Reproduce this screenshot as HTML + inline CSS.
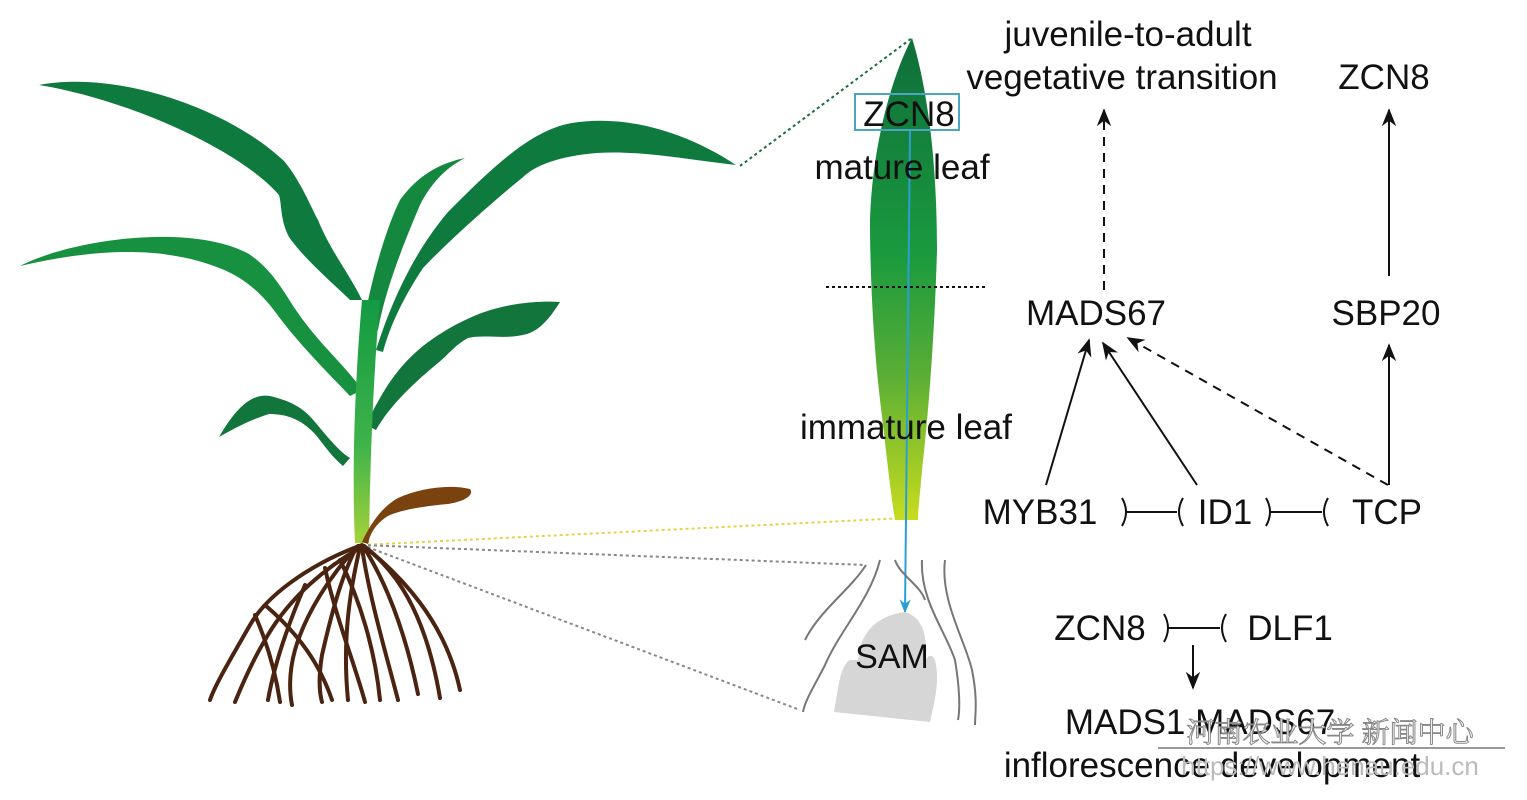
<!DOCTYPE html>
<html><head><meta charset="utf-8"><style>
html,body{margin:0;padding:0;background:#fff;}
svg{display:block;}
text{font-family:"Liberation Sans",Arial,sans-serif;fill:#111;}
</style></head><body>
<svg width="1527" height="800" viewBox="0 0 1527 800" xmlns="http://www.w3.org/2000/svg">
<defs>
<linearGradient id="stem" x1="0" y1="1" x2="0" y2="0">
<stop offset="0" stop-color="#a5d23a"/><stop offset="0.4" stop-color="#3fb34a"/><stop offset="1" stop-color="#139a43"/>
</linearGradient>
<linearGradient id="leaf" x1="0" y1="0" x2="0" y2="1">
<stop offset="0" stop-color="#0f6e3a"/><stop offset="0.45" stop-color="#1a9a3e"/><stop offset="0.7" stop-color="#5aae35"/><stop offset="1" stop-color="#c8dc1e"/>
</linearGradient>
<marker id="ah2" viewBox="0 0 10 10" refX="9" refY="5" markerWidth="18" markerHeight="18" orient="auto" markerUnits="userSpaceOnUse">
<path d="M0,1 L10,5 L0,9 L3,5 Z" fill="#111"/></marker>
<marker id="ahb" viewBox="0 0 10 10" refX="9" refY="5" markerWidth="14" markerHeight="14" orient="auto" markerUnits="userSpaceOnUse">
<path d="M0,1 L10,5 L0,9 L3,5 Z" fill="#2a9fd6"/></marker>
</defs>

<line x1="740" y1="166" x2="912" y2="38" stroke="#1b6e40" stroke-width="2" stroke-dasharray="3,3"/>
<line x1="362" y1="545" x2="905" y2="518" stroke="#e6d24a" stroke-width="2" stroke-dasharray="3,3"/>
<line x1="362" y1="545" x2="865" y2="565" stroke="#888" stroke-width="2" stroke-dasharray="3,3"/>
<line x1="362" y1="545" x2="800" y2="710" stroke="#888" stroke-width="2" stroke-dasharray="3,3"/>

<path d="M39,85 C120,70 230,110 284,161 C300,180 310,205 318,220 C330,250 350,275 362,300 L350,300 C335,285 305,260 289,237 C280,220 282,205 279,195 C240,150 130,100 39,85 Z" fill="#0f7a3e"/>
<path d="M20,266 C70,240 190,222 249,254 C275,272 285,295 298,313 C320,345 345,365 362,390 L350,396 C330,375 300,345 279,317 C260,290 240,275 214,266 C170,250 110,245 20,266 Z" fill="#17903f"/>
<path d="M219,437 C235,410 250,393 270,396 C295,402 305,410 315,422 C330,440 340,452 350,458 L343,466 C330,455 322,442 315,434 C300,418 285,414 269,414 C250,420 235,428 219,437 Z" fill="#12763c"/>
<path d="M362,335 C368,290 385,230 400,200 C420,172 445,162 465,158 C445,168 430,185 420,205 C405,240 385,290 378,330 Z" fill="#15883f"/>
<path d="M376,350 C395,290 420,245 448,212 C490,170 530,130 572,123 C620,115 680,128 736,165 C690,160 640,150 597,153 C560,156 535,165 522,178 C480,212 440,250 423,268 C405,295 390,325 383,352 Z" fill="#0f7a3e"/>
<path d="M366,425 C385,385 400,365 423,346 C450,325 480,312 498,308 C520,302 545,301 560,302 C550,318 540,330 527,334 C505,340 485,334 468,338 C455,345 448,355 438,363 C415,382 390,405 376,430 Z" fill="#12763c"/>
<path d="M355,543 C352,480 354,390 362,300 L380,300 C372,390 370,480 369,543 Z" fill="url(#stem)"/>
<path d="M362,542 C372,520 385,505 398,498 C420,488 450,484 470,489 C475,496 462,502 448,504 C425,506 400,510 388,516 C378,522 370,532 368,544 Z" fill="#7a420f"/>
<g stroke="#4a2410" stroke-width="4" fill="none" stroke-linecap="round">
<path d="M362,545 C320,560 270,590 250,625 C230,660 215,685 210,700"/>
<path d="M360,548 C330,565 290,595 265,640 C250,665 240,690 235,702"/>
<path d="M358,546 C330,575 305,615 295,650 C288,675 290,695 292,705"/>
<path d="M355,550 C340,580 330,620 322,655 C318,680 320,695 322,702"/>
<path d="M360,547 C350,590 342,640 348,700"/>
<path d="M325,568 C335,615 355,665 365,702"/>
<path d="M362,548 C370,600 385,650 398,700"/>
<path d="M363,546 C385,580 405,630 418,694"/>
<path d="M364,546 C395,570 425,610 440,698"/>
<path d="M364,546 C400,575 445,620 460,690"/>
<path d="M305,585 C290,620 275,660 268,700"/>
<path d="M265,605 C300,635 320,665 332,700"/>
<path d="M340,560 C360,600 375,650 380,700"/>
<path d="M255,615 C268,645 276,675 280,702"/>
</g>

<path d="M912,38 C925,80 937,150 937,250 C935,320 930,400 922,470 C920,495 918,510 918,520 L895,520 C890,490 885,440 880,400 C872,330 870,260 870,220 C872,150 890,80 912,38 Z" fill="url(#leaf)"/>
<line x1="910" y1="130" x2="905" y2="612" stroke="#2a9fd6" stroke-width="2" marker-end="url(#ahb)"/>
<rect x="855" y="94" width="104" height="36" fill="none" stroke="#4aa6c4" stroke-width="2"/>
<text x="909" y="126" font-size="35" text-anchor="middle">ZCN8</text>
<text x="902" y="179" font-size="35" text-anchor="middle">mature leaf</text>
<line x1="826" y1="287" x2="985" y2="287" stroke="#111" stroke-width="2" stroke-dasharray="3,3"/>
<text x="906" y="439" font-size="35" text-anchor="middle">immature leaf</text>

<g stroke="#777" stroke-width="2" fill="none">
<path d="M866,565 C850,590 820,610 805,640"/>
<path d="M880,560 C870,600 840,630 825,665 C815,685 805,700 803,712"/>
<path d="M895,560 C900,575 920,585 925,600"/>
<path d="M922,560 C920,600 945,630 955,660 C960,690 960,710 958,720"/>
<path d="M945,560 C940,600 965,640 972,670 C978,700 975,715 975,725"/>
</g>
<path d="M905,612 C880,615 860,630 858,660 L850,660 C840,665 838,690 834,712 L930,722 C935,700 940,680 935,660 C930,650 925,660 925,665 C928,640 925,618 905,612 Z" fill="#d6d6d6"/>
<text x="892" y="668" font-size="34" text-anchor="middle">SAM</text>

<g font-size="35" text-anchor="middle">
<text x="1128" y="46">juvenile-to-adult</text>
<text x="1122" y="89">vegetative transition</text>
<text x="1384" y="89">ZCN8</text>
<text x="1096" y="325">MADS67</text>
<text x="1386" y="325">SBP20</text>
<text x="1040" y="524">MYB31</text>
<text x="1225" y="524">ID1</text>
<text x="1387" y="524">TCP</text>
<text x="1100" y="640">ZCN8</text>
<text x="1290" y="640">DLF1</text>
<text x="1200" y="734">MADS1 MADS67</text>
<text x="1212" y="777">inflorescence development</text>
</g>
<g stroke="#111" stroke-width="2" fill="none">
<line x1="1104" y1="290" x2="1104" y2="110" stroke-dasharray="9,7" marker-end="url(#ah2)"/>
<line x1="1389" y1="276" x2="1389" y2="110" marker-end="url(#ah2)"/>
<line x1="1389" y1="485" x2="1389" y2="345" marker-end="url(#ah2)"/>
<line x1="1046" y1="485" x2="1089" y2="340" marker-end="url(#ah2)"/>
<line x1="1197" y1="485" x2="1103" y2="343" marker-end="url(#ah2)"/>
<line x1="1388" y1="485" x2="1128" y2="338" stroke-dasharray="9,7" marker-end="url(#ah2)"/>
<line x1="1193" y1="645" x2="1193" y2="688" marker-end="url(#ah2)"/>
<line x1="1126" y1="512" x2="1177" y2="512"/>
<path d="M1122,498 Q1130,512 1122,526"/><path d="M1183,498 Q1175,512 1183,526"/>
<line x1="1270" y1="512" x2="1322" y2="512"/>
<path d="M1266,498 Q1274,512 1266,526"/><path d="M1328,498 Q1320,512 1328,526"/>
<line x1="1168" y1="628" x2="1220" y2="628"/>
<path d="M1164,614 Q1172,628 1164,642"/><path d="M1226,614 Q1218,628 1226,642"/>
</g>
<text x="1330" y="742" font-size="28" text-anchor="middle" stroke="#888" stroke-width="1" style="font-family:'Noto Serif CJK SC','Noto Sans CJK SC',sans-serif;fill:#fff">河南农业大学 新闻中心</text>
<line x1="1158" y1="748" x2="1505" y2="748" stroke="#999" stroke-width="2"/>
<text x="1330" y="775" font-size="26" text-anchor="middle" style="fill:#bbb">https://www.henau.edu.cn</text>
</svg>
</body></html>
